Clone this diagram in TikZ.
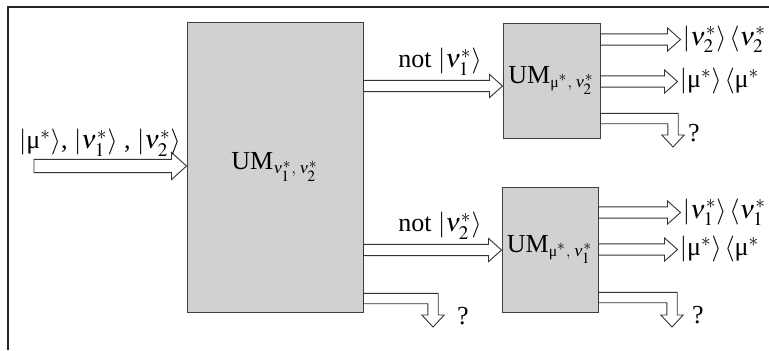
\documentclass[tikz,border=0pt]{standalone}
\usepackage{amsmath}
\usepackage{mathptmx}
\usepackage{fontspec}
\setmainfont{Liberation Serif}
\usetikzlibrary{calc}

\begin{document}
\begin{tikzpicture}[x=0.5pt,y=-0.5pt,font=\fontsize{13}{15}\selectfont,
  box/.style={draw=black!75,fill=black!18,line width=0.5pt,inner sep=0pt,
   font=\fontsize{13}{15}\selectfont},
  hollow/.style={draw=black!80,fill=white,line width=0.45pt,line join=miter}]
 \useasboundingbox (0,0) rectangle (769,350);
 \draw[black!85,line width=0.6pt] (769,7) -- (8,7) -- (8,350);
 \node[box,minimum width=88pt,minimum height=145pt] (big) at (275,167)
  {UM$_{\scriptscriptstyle\nu^*_1,\;\nu^*_2}$};
 \node[box,minimum width=48.5pt,minimum height=57.5pt] (umA) at (551.5,80.5)
  {UM$_{\scriptscriptstyle\text{μ}^*,\;\nu^*_2}$};
 \node[box,minimum width=48pt,minimum height=62.5pt] (umB) at (550,249.5)
  {UM$_{\scriptscriptstyle\text{μ}^*,\;\nu^*_1}$};
 \coordinate (in) at (34,166);
 \path (big.west |- in) coordinate (inT);
 \path (big.east |- umA.center) ++(0,5.5) coordinate (sA);
 \path (umA.west |- sA) coordinate (sAt);
 \path (big.east |- umB.center) ++(0,0.5) coordinate (sB);
 \path (umB.west |- sB) coordinate (sBt);
 \path (umA.north east) ++(0,17) coordinate (a1) ++(80,0) coordinate (a1t);
 \path (umA.north east) ++(0,59) coordinate (a2) ++(77,0) coordinate (a2t);
 \path (umB.north east) ++(0,26) coordinate (b1) ++(82,0) coordinate (b1t);
 \path (umB.north east) ++(0,63) coordinate (b2) ++(79,0) coordinate (b2t);
 \path (umA.south east) ++(0,-20) coordinate (a3);
 \path (umB.south east) ++(0,-15) coordinate (b3);
 \path (big.south east) ++(0,-14) coordinate (c3);
 \coordinate (a3t) at (673,147);
 \coordinate (b3t) at (672,327);
 \coordinate (c3t) at (433,327);
 \foreach \s/\t/\w/\W/\h in {in/inT/3.3/6.8/7.5,sA/sAt/2.8/5.8/6.5,
   sB/sBt/2.8/5.8/6.5,a1/a1t/2.8/5.8/6.5,a2/a2t/2.8/5.8/6.5,
   b1/b1t/2.8/5.8/6.5,b2/b2t/2.8/5.8/6.5}
  \draw[hollow] let \p1=(\s), \p2=(\t) in
   (\x1,\y1+\w pt) -- (\x2-\h pt,\y1+\w pt) -- (\x2-\h pt,\y1+\W pt) -- (\x2,\y1)
   -- (\x2-\h pt,\y1-\W pt) -- (\x2-\h pt,\y1-\w pt) -- (\x1,\y1-\w pt) -- cycle;
 \foreach \s/\t in {a3/a3t,b3/b3t,c3/c3t}
  \draw[hollow] let \p1=(\s), \p2=(\t) in
   (\x1,\y1+2.6pt) -- (\x2+2.6pt,\y1+2.6pt) -- (\x2+2.6pt,\y2+6pt)
   -- (\x2+5.6pt,\y2+6pt) -- (\x2,\y2) -- (\x2-5.6pt,\y2+6pt)
   -- (\x2-2.6pt,\y2+6pt) -- (\x2-2.6pt,\y1-2.6pt) -- (\x1,\y1-2.6pt) -- cycle;
 \node (inlab) at (100,143) {$|\text{μ}^*\rangle$, $|\nu^*_1\rangle$ , $|\nu^*_2\rangle$};
 \node (notA) at (440,62) {not $|\nu^*_1\rangle$};
 \node (notB) at (440,226) {not $|\nu^*_2\rangle$};
 \node[anchor=west,inner sep=1pt] (o1) at (a1t) {$|\nu^*_2\rangle\,\langle\nu^*_2$};
 \node[anchor=west,inner sep=1pt] (o2) at (a2t) {$|\text{μ}^*\rangle\,\langle\text{μ}^*$};
 \node[anchor=west,inner sep=1pt] (o3) at (b1t) {$|\nu^*_1\rangle\,\langle\nu^*_1$};
 \node[anchor=west,inner sep=1pt] (o4) at (b2t) {$|\text{μ}^*\rangle\,\langle\text{μ}^*$};
 \node (qA) at (694,133) {?};
 \node (qB) at (698,315) {?};
 \node (qC) at (463,316) {?};
\end{tikzpicture}
\end{document}
